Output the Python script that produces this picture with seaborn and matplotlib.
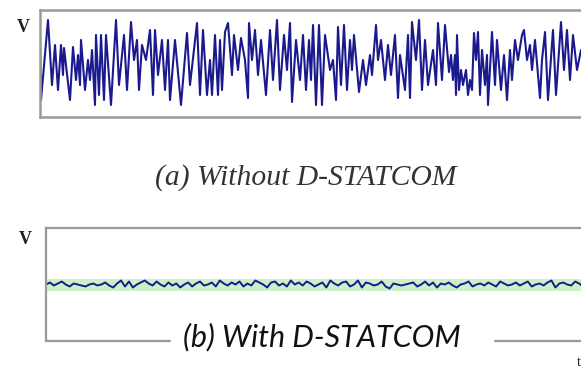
import numpy as np
import pandas as pd
import matplotlib
matplotlib.use("Agg")
import matplotlib.pyplot as plt
import seaborn as sns

# ---- data ----
# (a) voltage without D-STATCOM: time (ms) and amplitude (arbitrary units)
t_a = [0, 1, 8, 12, 15, 18, 21, 23, 24, 30, 33, 36, 38, 40, 41, 45, 48, 50, 52, 55,
       56, 59, 61, 64, 66, 71, 76, 79, 84, 87, 91, 94, 97, 99, 102, 106, 110, 113, 115, 118,
       122, 125, 128, 130, 135, 141, 147, 150, 157, 160, 163, 167, 170, 172, 175, 178, 180, 182, 185, 188,
       192, 194, 198, 201, 205, 208, 209, 212, 215, 218, 221, 226, 230, 233, 237, 240, 244, 247, 250, 252,
       256, 260, 263, 266, 269, 271, 273, 276, 279, 282, 285, 290, 293, 296, 298, 301, 304, 307, 310, 312,
       314, 319, 323, 326, 330, 332, 336, 338, 341, 345, 348, 351, 355, 358, 360, 365, 368, 370, 372, 376,
       379, 382, 385, 388, 393, 396, 398, 402, 405, 409, 411, 413, 415, 416, 417, 419, 421, 423, 426, 428,
       430, 432, 434, 436, 438, 440, 442, 445, 447, 448, 452, 455, 457, 461, 464, 467, 470, 472, 475, 478,
       482, 484, 487, 490, 492, 495, 500, 502, 505, 508, 513, 516, 521, 524, 527, 530, 533, 537, 541]
v_a = [20, -35, 45, -20, 20, -25, 20, -10, 17, -35, 18, -15, 10, -20, 25, -25, 5, -15, 15, -40,
       30, -30, 30, -35, 30, -40, 45, -20, 30, -25, 43, 5, 25, -25, 20, 5, 35, -30, 35, -10,
       25, -25, 25, -35, 25, -40, 32, -20, 42, -30, 35, -30, 5, -30, 30, -30, 25, -25, 33, 42,
       -10, 30, -5, 27, 5, -33, 42, 5, 35, -10, 25, -30, 35, -15, 45, -25, 30, -5, 42, -37,
       25, -15, 30, -25, 25, -15, 40, -40, 40, -40, 30, -5, 5, -35, 38, -20, 40, -25, 25, -5,
       30, -27, 5, -20, 10, -10, 40, 5, 25, -15, 20, -10, 30, -33, 10, -25, 30, -33, 43, 5,
       45, -25, 25, -20, 15, -20, 42, -15, 40, -7, 10, -15, 10, -30, 30, -25, -5, -20, -5, -30,
       -15, -25, 32, 5, 33, -30, 15, -20, 10, -40, 33, -20, 25, -25, 10, -35, 15, -15, 25, 5,
       30, 35, 5, 20, -5, 25, -33, 5, 33, -35, 35, -30, 43, -5, 35, -15, 30, -5, 15]

# (b) voltage with D-STATCOM: small ripple around nominal
v_b = [0, 2, -1, 1, 3, 0, -2, 1, 0, -1, -2, 0, 1, -1, 0, 2, -1, -3, 1, 4,
       -2, 3, -3, 0, 2, 4, 1, -1, 3, 0, -2, 2, -1, 1, -3, 0, 2, -2, 1, 3,
       -1, 0, 2, -2, 4, 1, -1, 2, 0, 3, -2, 1, -1, 4, 2, 0, -3, 2, 3, -1,
       1, -2, 4, 0, 2, -1, 3, 1, -2, 0, 2, -3, 4, 1, -1, 2, 3, -2, 0, 4,
       -3, 2, 1, -1, 0, 3, -2, -4, 1, 0, -1, 0, 1, 2, -2, 0, 3, -1, 2, -3,
       1, 0, 2, -1, -3, 0, 1, 3, -2, 0, 1, -1, 2, 0, -2, 3, 1, -1, 0, 2,
       -1, 1, 3, -2, 0, 1, -1, 2, 4, -3, 1, 2, 0, -1, 3, 1, -2, 2]
t_b = np.linspace(0, 541, len(v_b))
band_b = 6  # half-width of the tolerance band

label_a = "(a) Without D-STATCOM"
label_b = "(b) With D-STATCOM"

df_a = pd.DataFrame({"t": t_a, "v": v_a})
df_b = pd.DataFrame({"t": t_b, "v": v_b})

sns.set_theme(style="white")
W, H = 581, 369
fig = plt.figure(figsize=(W / 100, H / 100), dpi=100)
fig.patch.set_facecolor("white")

line_col = "#1a1a8e"
frame_col = "#9a9a9a"
AXW = 1.06  # axes run past the right edge of the picture
AXPX = AXW * W

# ---- top panel ----
ax1 = fig.add_axes([40 / W, 1 - 117 / H, AXW, 107 / H])
sns.lineplot(data=df_a, x="t", y="v", ax=ax1, color=line_col, lw=1.5, estimator=None)
ax1.set_xlim(0, AXPX)
ax1.set_ylim(-52, 55)
ax1.set_xticks([]); ax1.set_yticks([])
ax1.set_xlabel(""); ax1.set_ylabel("")
for s in ax1.spines.values():
    s.set_color(frame_col); s.set_linewidth(1.8)

# ---- bottom panel ----
ax2 = fig.add_axes([46 / W, 1 - 341 / H, AXW, 113 / H])
ax2.axhspan(-band_b, band_b, color="#c9f2c9", lw=0)
sns.lineplot(data=df_b, x="t", y="v", ax=ax2, color=line_col, lw=1.4, estimator=None)
ax2.set_xlim(0, AXPX)
ax2.set_ylim(-56.5, 56.5)
ax2.set_xticks([]); ax2.set_yticks([])
ax2.set_xlabel(""); ax2.set_ylabel("")
for name, s in ax2.spines.items():
    s.set_color(frame_col); s.set_linewidth(1.6)
ax2.spines["bottom"].set_visible(False)
# bottom frame broken by the caption
ax2.axhline(-56.5, xmin=0, xmax=(170 - 46) / AXPX, color=frame_col, lw=1.6, clip_on=False)
ax2.axhline(-56.5, xmin=(495 - 46) / AXPX, xmax=1, color=frame_col, lw=1.6, clip_on=False)

# ---- texts ----
fig.text(23 / W, 1 - 27 / H, "V", family="Liberation Serif", weight="bold",
         fontsize=13, ha="center", va="center", color="#222222")
fig.text(25 / W, 1 - 240 / H, "V", family="Liberation Serif", weight="bold",
         fontsize=13, ha="center", va="center", color="#222222")
fig.text(306 / W, 1 - 178 / H, label_a, family="Liberation Serif", style="italic",
         fontsize=21.3, ha="center", va="center", color="#333333")
fig.text(322 / W, 1 - 337 / H, label_b, family="Lato", style="italic",
         fontsize=22, ha="center", va="center", color="#111111")
fig.text(577 / W, 1 - 362 / H, "t", family="Liberation Serif", fontsize=10,
         ha="left", va="center", color="#222222")

fig.savefig("out.png", dpi=100)
